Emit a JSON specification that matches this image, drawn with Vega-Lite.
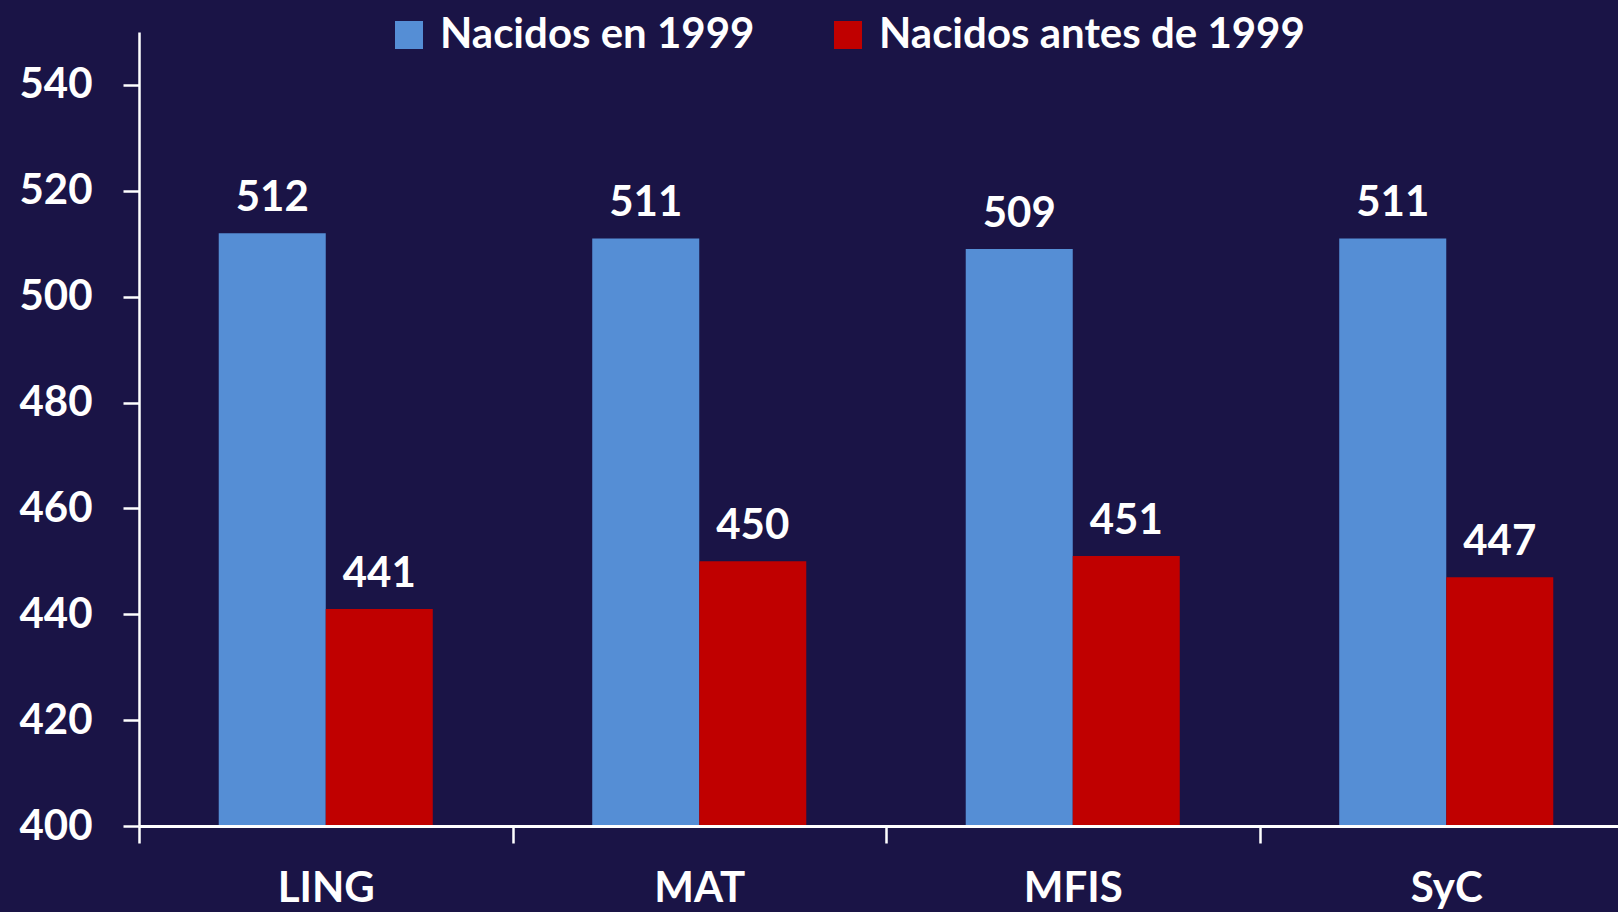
{
  "$schema": "https://vega.github.io/schema/vega-lite/v6.json",
  "width": 1479,
  "height": 794,
  "autosize": {"type": "none"},
  "padding": {"left": 139, "top": 32, "right": 0, "bottom": 86},
  "background": "#1a1446",
  "config": {"view": {"stroke": null}, "font": "Lato"},
  "data": {"values": [
    {"area": "LING", "grupo": "Nacidos en 1999", "valor": 512},
    {"area": "LING", "grupo": "Nacidos antes de 1999", "valor": 441},
    {"area": "MAT", "grupo": "Nacidos en 1999", "valor": 511},
    {"area": "MAT", "grupo": "Nacidos antes de 1999", "valor": 450},
    {"area": "MFIS", "grupo": "Nacidos en 1999", "valor": 509},
    {"area": "MFIS", "grupo": "Nacidos antes de 1999", "valor": 451},
    {"area": "SyC", "grupo": "Nacidos en 1999", "valor": 511},
    {"area": "SyC", "grupo": "Nacidos antes de 1999", "valor": 447}
  ]},
  "encoding": {
    "x": {
      "field": "area", "type": "nominal", "sort": ["LING", "MAT", "MFIS", "SyC"],
      "scale": {"range": [0, 1494], "paddingInner": 0, "paddingOuter": 0},
      "axis": {
        "title": null, "labelAngle": 0, "tickBand": "extent",
        "domainColor": "white", "domainWidth": 3, "tickColor": "white", "tickWidth": 2.5, "tickSize": 17,
        "labelColor": "white", "labelFontSize": 42, "labelFontWeight": "bold", "labelPadding": 58, "labelBaseline": "alphabetic",
        "zindex": 1
      }
    },
    "xOffset": {
      "field": "grupo", "type": "nominal", "sort": ["Nacidos en 1999", "Nacidos antes de 1999"],
      "scale": {"paddingInner": 0, "paddingOuter": 0.745}
    },
    "y": {
      "field": "valor", "type": "quantitative",
      "scale": {"domain": [400, 550], "nice": false, "zero": false},
      "axis": {
        "title": null, "grid": false, "values": [400, 420, 440, 460, 480, 500, 520, 540],
        "domainColor": "white", "domainWidth": 2.5, "tickColor": "white", "tickWidth": 2.5, "tickSize": 16,
        "labelColor": "white", "labelFontSize": 42, "labelFontWeight": "bold", "labelPadding": 31, "zindex": 1
      }
    }
  },
  "layer": [
    {
      "mark": {"type": "bar", "clip": true},
      "encoding": {
        "color": {
          "field": "grupo", "type": "nominal",
          "scale": {"domain": ["Nacidos en 1999", "Nacidos antes de 1999"], "range": ["#558ed5", "#c00000"]},
          "legend": {
            "orient": "none", "legendX": 249, "legendY": -18, "direction": "horizontal",
            "title": null, "symbolType": "square", "symbolSize": 784, "symbolStrokeWidth": 0,
            "symbolOpacity": 1, "labelFontSize": 42, "labelFontWeight": "bold", "labelColor": "white", "labelOffset": 10,
            "labelLimit": 0, "columnPadding": 72, "padding": 0
          }
        }
      }
    },
    {
      "mark": {"type": "text", "dy": -22, "baseline": "alphabetic", "fontSize": 42, "fontWeight": "bold", "color": "white"},
      "encoding": {"text": {"field": "valor", "type": "quantitative"}}
    }
  ]
}
